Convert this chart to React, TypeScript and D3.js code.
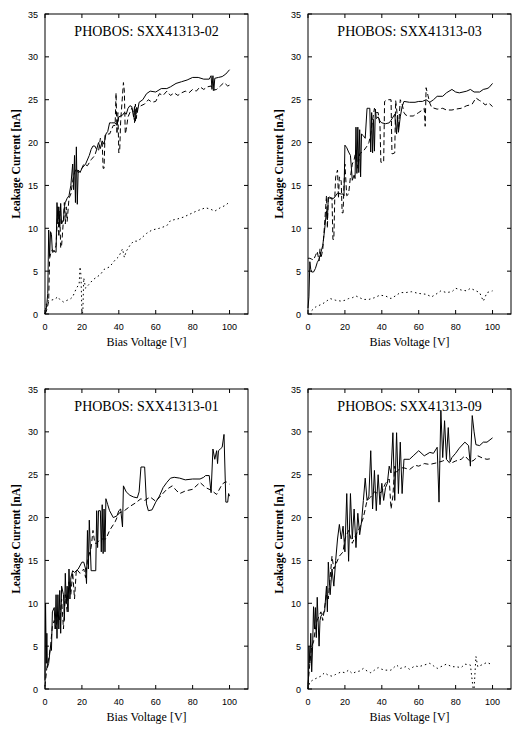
import React from 'react';
import * as d3 from 'd3';

type Pt = [number, number];

// tick values shared by all four panels
const xTicks = [0, 20, 40, 60, 80, 100];
const yTicks = [0, 5, 10, 15, 20, 25, 30, 35];

// SXX41313-02  [bias V, current nA]
const p02Solid: Pt[] = [[0,0],[0.5,0.3],[1,1.2],[1.5,2.4],[2,9.8],[2.5,6.7],[3,9.6],[3.5,9.3],[4,7.2],[5,7.3],[6,7.2],[6.5,13],[7,10.5],[7.5,12.5],[8,10.2],[8.5,12.9],[9,10.5],[10,11],[10.5,12.5],[11,13],[12,13.5],[13,13.8],[14,15],[15,17.5],[15.5,14.5],[16,18.5],[16.5,13],[17,19.5],[17.5,12.8],[18,16.8],[19,16.5],[20,17],[22,17.5],[24,18.5],[25,19.2],[26,19.6],[27,19.6],[28,19.2],[29,20],[30,19.3],[31,20.2],[32,19.8],[33,21],[34,21.3],[35,22.3],[36,22.3],[38,22.3],[39,22],[40,23],[42,23.2],[43,23.5],[44,23.3],[45,24],[46,24.3],[47,24.2],[48,23],[48.5,24.2],[49,22.5],[49.5,24.1],[50,23.5],[51,24.7],[53,25],[55,25.7],[57,26],[60,25.9],[63,26.3],[66,26.3],[68,26.5],[71,26.9],[74,27.1],[77,27.3],[80,27.6],[83,27.6],[86,27.4],[89,27.4],[90,27.8],[90.5,26.2],[91,27.8],[91.5,26.1],[92,27.5],[94,27.6],[96,27.7],[98,28],[100,28.5]];
const p02Dashed: Pt[] = [[0,0],[1,0.5],[2,1.5],[2.5,6.5],[3,7],[4,7.5],[5,7.3],[6,8],[7,12.5],[7.5,9],[8,12],[8.5,7.7],[9,8],[10,11],[10.5,13],[11,10.5],[11.5,12.5],[12,10.8],[13,13.5],[14,14],[15,15.5],[16,16.5],[17,17],[18,16.5],[19,16.7],[20,17],[21,17.5],[23,17.3],[25,18],[27,18.5],[28,19.2],[29,19],[30,20.5],[31,20],[31.5,17],[32,17],[32.5,20.8],[33,21],[35,21],[36,21.5],[37,22],[38,22],[38.5,25.8],[39,21],[39.5,23.5],[40,18.8],[40.5,19.2],[41,22.5],[42,25.5],[42.5,27],[43,26],[43.5,21],[44,21.5],[45,23],[46,23.5],[47,24],[48,23.5],[48.5,22.3],[49,24.5],[49.5,22.8],[50,24],[52,24.3],[54,24.5],[56,25],[58,24.7],[60,24.8],[62,25.7],[64,25.5],[66,26],[68,25.5],[70,25.8],[72,25.5],[74,25.8],[76,26],[78,25.8],[80,26.2],[82,26],[84,26.5],[86,26.2],[88,26.5],[90,26.6],[91,26.1],[93,26.2],[95,26.6],[97,27],[99,26.6],[100,26.7]];
const p02Dotted: Pt[] = [[0,0],[1,1.5],[3,1.6],[5,1.7],[7,2],[8,1.7],[10,1.4],[12,1.6],[14,1.8],[15,2],[17,3],[18.5,3.5],[19,5.5],[19.5,4.5],[20,0.1],[20.5,0.2],[21,4.2],[22,3],[24,3.5],[26,4],[28,4.3],[30,4.6],[32,5.2],[35,5.5],[38,6.3],[40,6.7],[42,7.6],[43,6.6],[44,7.3],[46,8],[48,8.5],[50,8.5],[52,8.8],[55,9.4],[58,9.8],[62,10],[66,10.3],[68,10.9],[72,11.1],[75,11.3],[78,11.6],[82,12],[87,12.4],[90,12.2],[92,12],[95,12.4],[98,12.7],[100,13.1]];

// SXX41313-03
const p03Solid: Pt[] = [[0,0.7],[0.5,2],[1,6.1],[1.5,5.2],[2,4.9],[3,4.9],[4,5.3],[5,6],[6,6.4],[7,7.2],[8,8],[9,9.8],[10,12],[10.5,11],[11,13.6],[12,13.5],[14,13.5],[16,14.1],[18,14],[19,14],[19.5,13.8],[20,19.7],[21,19.4],[22,18.9],[23,18.5],[24,15.6],[25,16.2],[25.5,15.8],[26,21.8],[26.5,16.4],[27,21.8],[27.5,16.5],[28,21.5],[28.5,16],[29,21],[30,20.8],[31,20.5],[32,24],[33,24],[33.5,24],[34,18.9],[34.5,23.5],[35,18.8],[35.5,22.7],[36,19],[36.5,23.9],[37,22.8],[38,23],[39,22.5],[40,22.3],[42,22.2],[44,22.3],[45,22.6],[47,23.3],[48,21],[48.5,23.2],[49,21.2],[50,23],[51,24.2],[52,24.8],[55,24.7],[58,24.7],[60,24.8],[62,24.8],[64,25],[66,24.7],[68,25],[70,25.4],[73,25.4],[75,25.8],[78,26.2],[80,25.9],[82,25.8],[84,25.9],[86,26],[88,26.2],[90,25.9],[93,25.9],[95,26.2],[97,26.3],[98,26.4],[100,26.9]];
const p03Dashed: Pt[] = [[0,6.5],[1,6.5],[2,6.4],[3,6.3],[4,6.8],[5,7.3],[6,6.2],[6.5,7.6],[7,6.5],[8,7.5],[9,10.5],[10,13.8],[10.5,10],[11,13.8],[12,13.6],[13,13.5],[13.5,8.7],[14,8.7],[14.5,13.5],[15,16],[16,16.8],[16.5,13.5],[17,16],[18,15.5],[18.5,11.8],[19,11.8],[19.5,15],[20,17.5],[21,13.8],[22,14],[23,16],[24,17.5],[25,18],[26,19.1],[27,17],[28,18.7],[30,19],[32,19.6],[33,20],[34,21],[35,22.6],[36,24],[37,23.5],[38,23.5],[39,22],[39.5,17.7],[40,17.7],[41,17.7],[41.5,24.8],[43,25],[45,25],[45.5,18.7],[46,18.7],[47,18.8],[47.5,24.9],[48,24],[49,21.5],[50,25],[51,24.5],[52,23.5],[53,23.2],[55,23.1],[57,23.1],[60,23.5],[62,23.8],[63,24],[63.5,21.9],[64,26.4],[65,25.5],[66,24.6],[67,24.1],[70,23.9],[73,24],[75,23.8],[78,23.8],[80,23.9],[83,24],[86,24.3],[88,24.4],[89,24.5],[91,25.2],[93,24.9],[94,24.8],[96,24.4],[98,24.6],[100,24.2]];
const p03Dotted: Pt[] = [[2,0.4],[4,0.8],[6,1.0],[8,1.2],[10,1.5],[12,1.8],[15,1.6],[18,1.5],[20,1.6],[22,1.8],[24,1.9],[26,2.1],[28,1.9],[30,1.7],[33,1.7],[36,1.9],[39,2.2],[42,2.1],[45,1.8],[48,2.2],[50,2.5],[53,2.5],[56,2.6],[60,2.4],[64,2.3],[67,2.0],[70,2.4],[72,2.7],[75,2.5],[78,2.6],[80,3.0],[83,2.8],[86,2.7],[88,3.0],[90,2.8],[93,2.5],[95,1.5],[97,2.5],[100,2.7]];

// SXX41313-01
const p01Solid: Pt[] = [[0,1],[0.3,10],[0.7,3],[1,6.5],[1.3,2.5],[2,3],[3,5],[3.5,4.5],[4,9],[5,9.5],[5.5,7],[6,11],[6.5,5.9],[7,11],[7.5,7],[8,11.5],[8.5,6.5],[9,12],[10,11],[10.5,8],[11,13.5],[11.5,10],[12,12],[12.5,9],[13,14],[13.5,10.5],[14,13],[15,13.8],[16,13.6],[18,14],[20,14.8],[21,14.8],[22,14],[22.5,12.3],[23,18.5],[23.5,14],[24,19.7],[25,13.8],[26,13.8],[27.5,13.8],[28,20.8],[28.5,16.5],[29,20.8],[30,20.8],[30.5,16],[31,21.5],[31.5,15.8],[32,21],[32.5,16],[33,22.2],[34,21.5],[35,20.8],[37,20],[39,20.2],[40,20.8],[41,21],[42,18.9],[42.5,23.7],[44,23],[46,22.6],[48,22.4],[50,22.3],[51,23],[52,25.9],[54,25.9],[55,21.6],[56,20.8],[58,20.9],[60,21.8],[62,22.5],[64,23.5],[66,24.1],[68,24.6],[70,24.7],[73,24.6],[76,24.4],[80,24.5],[84,24.5],[86,24.7],[87,24.9],[89,24.9],[90,22.9],[91,28],[92,26.8],[93,27.8],[93.5,26.3],[94,27.8],[95,28],[96,28.2],[97,29.7],[98,21.8],[99,21.8],[99.5,22.8],[100,22.5]];
const p01Dashed: Pt[] = [[0,0.3],[1,2.5],[2,3.5],[3,5],[4,7.3],[5,8],[6,7],[7,9],[8,8],[9,10.5],[10,7],[11,11],[12,9],[13,12.5],[14,11],[15,13.6],[16,10.5],[17,14],[19,13.5],[21,14],[22,13],[23,15],[25,16.5],[26,18.5],[27,17],[28,17],[30,17.5],[33,17.5],[35,18.5],[38,19.5],[40,20.5],[43,20.8],[46,21.3],[49,21.7],[52,22.2],[54,22],[57,22.4],[60,21.9],[63,22.6],[66,23.3],[69,23.7],[71,23.2],[73,22.8],[76,23.1],[80,23.3],[84,24.1],[87,23.5],[90,23.2],[93,22.7],[96,23.9],[98,24.2],[100,23.9]];

// SXX41313-09
const p09Solid: Pt[] = [[0,0],[0.3,1.5],[0.5,5],[1,3],[1.5,6.5],[2,2],[2.5,5],[3,9.6],[3.5,7],[4,9.5],[4.5,6],[5,10.7],[6,5],[6.5,8],[7,8.5],[8,8.8],[9,9],[10,12],[10.5,9],[11,14.8],[12,11],[13,14],[14,12],[15,15],[16,17.5],[17,19.2],[18,17.5],[19,19],[20,16],[21,22.8],[22,14.9],[23,22.8],[24,17.5],[25,21],[26,16.5],[27,20.5],[28,18],[29,19.5],[30,22],[31,24.6],[32,22],[33,22.5],[34,27.8],[35,21],[36,25.5],[37,20.8],[38,25],[39,21.5],[40,24],[41,22],[42,23.5],[43,24],[44,26],[45,25.2],[46,29.9],[47,22],[48,29.9],[49,22.8],[50,28.8],[51,22.8],[52,26.8],[55,26.8],[57,27.2],[60,27.8],[63,27.2],[66,27.6],[68,27.5],[70,28.2],[71,21.8],[72,32.5],[73,27],[74,31.3],[75,26.8],[76,30.5],[77,26.5],[78,27],[80,27.5],[82,28.1],[85,28.8],[87,28.4],[88,26],[89,31.9],[90,30],[91,28.5],[93,28.4],[95,28.8],[97,28.8],[100,29.3]];
const p09Dashed: Pt[] = [[0,0.5],[1,3],[2,5],[3,5.5],[4,7],[5,8],[7,9],[8,8],[10,11],[11,10.5],[12,13],[13,15.5],[14,14],[15,14.5],[17,15.5],[19,16],[20,17.5],[22,18.5],[24,17],[26,18],[28,18.8],[30,20],[32,22],[34,22.4],[36,23],[38,22.8],[40,23],[42,24],[44,24.5],[45,21],[46,22.5],[47,26],[48,25.3],[50,25.8],[52,25.8],[55,25.6],[58,26.1],[60,26],[63,26.3],[66,26.2],[70,26.4],[73,26.6],[75,26.8],[77,26.3],[80,26.6],[83,26.8],[85,27.2],[88,26.5],[90,26.7],[92,27.2],[95,26.9],[97,26.8],[100,26.9]];
const p09Dotted: Pt[] = [[0,0],[1,0.8],[3,1.1],[5,1.3],[7,1.5],[9,1.9],[11,1.6],[13,1.5],[15,1.7],[18,2.0],[20,1.9],[22,2.2],[24,1.8],[26,2.0],[28,2.1],[30,2.4],[32,2.1],[34,1.9],[36,2.2],[38,2.5],[40,2.3],[42,2.2],[45,2.2],[47,2.6],[48,2.8],[50,2.4],[53,2.6],[55,2.3],[58,2.7],[60,2.6],[63,2.8],[66,3.0],[68,2.7],[70,2.4],[72,2.6],[75,2.9],[78,2.6],[80,2.6],[83,2.5],[85,2.9],[88,2.8],[89.5,0],[90,0],[91,3.8],[92,2.6],[95,2.9],[97,3.1],[100,2.8]];

const serif = '"Liberation Serif", "Times New Roman", serif';
const sans = '"Liberation Sans", Arial, sans-serif';

const dashes = { solid: undefined, dashed: '5,3', dotted: '1.5,3' };

interface PanelProps {
  title: string;
  left: number;
  top: number;
  series: { data: Pt[]; style: 'solid' | 'dashed' | 'dotted' }[];
}

const W = 203;
const H = 300;

const Panel: React.FC<PanelProps> = ({ title, left, top, series }) => {
  const x = d3.scaleLinear().domain([0, 110]).range([0, W]);
  const y = d3.scaleLinear().domain([0, 35]).range([H, 0]);
  const line = d3.line<Pt>().x(d => x(d[0])).y(d => y(d[1]));

  return (
    <g transform={`translate(${left},${top})`}>
      <rect x={0} y={0} width={W} height={H} fill="none" stroke="#000" strokeWidth={1} />
      {xTicks.map(t => (
        <g key={'x' + t}>
          <line x1={x(t)} x2={x(t)} y1={H} y2={H - 4} stroke="#000" />
          <line x1={x(t)} x2={x(t)} y1={0} y2={4} stroke="#000" />
          <text x={x(t)} y={H + 15.5} textAnchor="middle" fontFamily={sans} fontSize={9}>{t}</text>
        </g>
      ))}
      {yTicks.map(t => (
        <g key={'y' + t}>
          <line x1={0} x2={4} y1={y(t)} y2={y(t)} stroke="#000" />
          <line x1={W} x2={W - 4} y1={y(t)} y2={y(t)} stroke="#000" />
          <text x={-7} y={y(t) + 3.5} textAnchor="end" fontFamily={sans} fontSize={9}>{t}</text>
        </g>
      ))}
      {series.map((s, i) => (
        <path key={i} d={line(s.data) || ''} fill="none" stroke="#000" strokeWidth={1}
          strokeDasharray={dashes[s.style]} strokeLinejoin="miter" />
      ))}
      <text x={W / 2} y={22} textAnchor="middle" fontFamily={serif} fontSize={14}>{title}</text>
      <text x={W / 2} y={H + 32} textAnchor="middle" fontFamily={serif} fontSize={12}>Bias Voltage [V]</text>
      <text transform={`translate(-29,${H / 2}) rotate(-90)`} textAnchor="middle" dominantBaseline="central"
        fontFamily={serif} fontSize={11.5} fontWeight="bold">Leakage Current [nA]</text>
    </g>
  );
};

export default function App() {
  return (
    <svg width={532} height={743} style={{ position: 'absolute', left: 0, top: 0, background: '#fff' }}>
      <rect width={532} height={743} fill="#fff" />
      <Panel title="PHOBOS: SXX41313-02" left={45} top={14}
        series={[{ data: p02Solid, style: 'solid' }, { data: p02Dashed, style: 'dashed' }, { data: p02Dotted, style: 'dotted' }]} />
      <Panel title="PHOBOS: SXX41313-03" left={308} top={14}
        series={[{ data: p03Solid, style: 'solid' }, { data: p03Dashed, style: 'dashed' }, { data: p03Dotted, style: 'dotted' }]} />
      <Panel title="PHOBOS: SXX41313-01" left={45} top={389}
        series={[{ data: p01Solid, style: 'solid' }, { data: p01Dashed, style: 'dashed' }]} />
      <Panel title="PHOBOS: SXX41313-09" left={308} top={389}
        series={[{ data: p09Solid, style: 'solid' }, { data: p09Dashed, style: 'dashed' }, { data: p09Dotted, style: 'dotted' }]} />
    </svg>
  );
}
